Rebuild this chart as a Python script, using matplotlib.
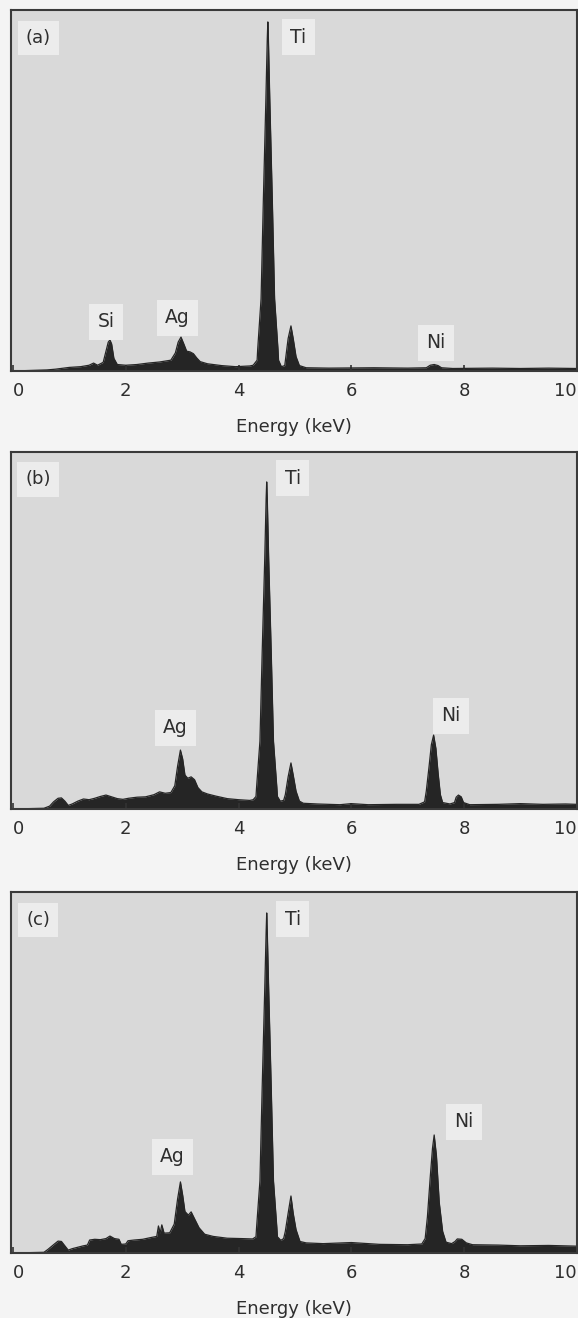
import matplotlib
matplotlib.use("Agg")
import matplotlib.pyplot as plt

# EDS spectra, energy in keV, counts in % of full scale
energy_a = [0.00, 0.60, 0.75, 1.00, 1.20, 1.35, 1.43, 1.50, 1.60, 1.65, 1.69, 1.72, 1.75, 1.79, 1.85,
            2.00, 2.20, 2.40, 2.60, 2.80, 2.88, 2.93, 2.98, 3.03, 3.08, 3.14, 3.20, 3.26, 3.32, 3.45,
            3.70, 3.95, 4.20, 4.26, 4.33, 4.34, 4.40, 4.44, 4.485, 4.51, 4.52, 4.53, 4.555, 4.60, 4.64,
            4.70, 4.71, 4.76, 4.82, 4.84, 4.88, 4.93, 4.97, 5.02, 5.08, 5.20, 5.60, 6.40, 7.00, 7.33,
            7.40, 7.47, 7.54, 7.60, 7.80, 8.50, 9.00, 9.50, 10.0]
counts_a = [0.0, 0.3, 0.5, 1.0, 1.2, 1.6, 2.2, 1.6, 2.4, 5.5, 8.0, 8.6, 7.5, 3.5, 1.8,
            1.6, 1.8, 2.2, 2.5, 3.0, 5.0, 8.0, 9.4, 7.5, 5.5, 5.3, 4.8, 3.6, 2.6, 2.0,
            1.5, 1.2, 1.4, 1.6, 3.0, 6.0, 20.0, 47.0, 75.0, 92.0, 96.7, 92.0, 75.0, 47.0, 20.0,
            6.0, 3.0, 1.2, 1.5, 4.0, 9.0, 12.5, 9.0, 4.0, 1.5, 0.9, 0.8, 0.9, 0.8, 0.9,
            1.6, 1.8, 1.5, 0.9, 0.7, 0.8, 0.7, 0.8, 0.7]

energy_b = [0.00, 0.55, 0.65, 0.72, 0.80, 0.86, 0.92, 0.98, 1.05, 1.15, 1.25, 1.35, 1.45, 1.55, 1.65,
            1.75, 1.85, 1.95, 2.05, 2.20, 2.35, 2.50, 2.60, 2.70, 2.80, 2.87, 2.92, 2.97, 3.01, 3.05,
            3.10, 3.16, 3.22, 3.28, 3.35, 3.45, 3.60, 3.80, 4.00, 4.20, 4.26, 4.31, 4.32, 4.38, 4.42,
            4.465, 4.49, 4.50, 4.51, 4.535, 4.58, 4.62, 4.68, 4.69, 4.74, 4.80, 4.83, 4.88, 4.93, 4.97,
            5.02, 5.08, 5.15, 5.40, 5.80, 6.00, 6.30, 6.80, 7.20, 7.30, 7.33, 7.38, 7.42, 7.46, 7.50,
            7.54, 7.58, 7.62, 7.75, 7.83, 7.86, 7.90, 7.95, 7.99, 8.10, 8.60, 9.00, 9.40, 9.80, 10.0]
counts_b = [0.0, 0.2, 0.8, 2.0, 3.0, 3.1, 2.2, 1.0, 1.4, 2.2, 2.8, 2.6, 3.0, 3.5, 3.9,
            3.4, 2.9, 2.7, 3.0, 3.3, 3.4, 4.0, 4.8, 4.4, 4.6, 6.5, 12.0, 16.5, 14.0, 9.5,
            8.6, 9.0, 8.2, 6.0, 4.8, 4.2, 3.6, 2.9, 2.6, 2.4, 2.6, 3.5, 6.0, 19.0, 44.0,
            70.0, 87.0, 91.6, 87.0, 70.0, 44.0, 19.0, 6.0, 3.5, 2.2, 2.4, 4.0, 9.0, 12.9, 9.5,
            5.0, 2.2, 1.6, 1.4, 1.2, 1.5, 1.2, 1.3, 1.3, 2.0, 5.0, 12.0, 18.0, 20.7, 17.0,
            10.0, 4.0, 1.8, 1.4, 1.8, 3.3, 3.9, 3.4, 1.8, 1.2, 1.3, 1.5, 1.3, 1.4, 1.3]

energy_c = [0.00, 0.55, 0.62, 0.72, 0.80, 0.86, 0.92, 0.98, 1.05, 1.15, 1.25, 1.32, 1.36, 1.45, 1.55,
            1.65, 1.72, 1.80, 1.88, 1.92, 2.00, 2.04, 2.15, 2.30, 2.45, 2.55, 2.58, 2.61, 2.64, 2.68,
            2.78, 2.86, 2.92, 2.97, 3.01, 3.05, 3.11, 3.16, 3.22, 3.30, 3.40, 3.55, 3.80, 4.05, 4.25,
            4.31, 4.32, 4.38, 4.42, 4.465, 4.49, 4.50, 4.51, 4.535, 4.58, 4.62, 4.68, 4.69, 4.75, 4.80,
            4.83, 4.88, 4.93, 4.97, 5.02, 5.09, 5.20, 5.50, 6.00, 6.50, 7.00, 7.25, 7.31, 7.35, 7.40,
            7.44, 7.47, 7.51, 7.56, 7.62, 7.68, 7.78, 7.84, 7.88, 7.96, 8.04, 8.15, 8.60, 9.00, 9.50,
            10.0]
counts_c = [0.0, 0.2, 1.0, 2.3, 3.3, 3.2, 2.0, 0.8, 1.2, 1.6, 2.0, 2.2, 3.6, 3.8, 3.7,
            4.0, 4.7, 4.0, 3.8, 2.4, 2.5, 3.4, 3.6, 3.8, 4.3, 4.6, 7.5, 5.5, 7.8, 5.5,
            5.6, 8.0, 15.0, 19.7, 16.0, 11.5, 10.5, 11.4, 9.5, 7.0, 5.2, 4.6, 4.1, 4.0, 3.9,
            4.5, 7.0, 20.0, 46.0, 73.0, 89.0, 94.2, 89.0, 73.0, 46.0, 20.0, 7.0, 4.5, 3.5, 4.0,
            6.0, 11.0, 15.8, 11.0, 6.5, 3.2, 2.8, 2.6, 2.9, 2.4, 2.3, 2.5, 4.0, 10.0, 21.0,
            29.0, 32.7, 27.0, 14.0, 6.0, 3.0, 2.6, 3.2, 3.9, 3.8, 2.8, 2.3, 2.2, 2.0, 2.1,
            1.9]

xticks = [0, 2, 4, 6, 8, 10]

panels = [
    ("(a)", energy_a, counts_a, [("Ti", 5.06, 92.5), ("Si", 1.65, 13.6), ("Ag", 2.92, 14.7), ("Ni", 7.50, 7.8)]),
    ("(b)", energy_b, counts_b, [("Ti", 4.96, 92.7), ("Ag", 2.88, 22.7), ("Ni", 7.77, 26.1)]),
    ("(c)", energy_c, counts_c, [("Ti", 4.96, 92.5), ("Ag", 2.83, 26.6), ("Ni", 8.00, 36.3)]),
]

# axes boxes in figure fraction (left, bottom, width, height)
boxes = [(0.019, 0.7185, 0.979, 0.2739),
         (0.019, 0.3862, 0.979, 0.2709),
         (0.019, 0.0493, 0.979, 0.2739)]

fig = plt.figure(figsize=(5.78, 13.18), dpi=100, facecolor="#f4f4f4")
box_style = dict(boxstyle="square,pad=0.45", fc="#ececec", ec="none")

for (tag, e, c, peaks), rect in zip(panels, boxes):
    ax = fig.add_axes(rect, facecolor="#d9d9d9")
    ax.fill_between(e, c, 0, color="#252525", lw=0)
    ax.plot(e, c, color="#252525", lw=0.9)
    ax.set_xlim(-0.035, 10.0)
    ax.set_ylim(0, 100)
    ax.set_yticks([])
    ax.set_xticks(xticks)
    ax.set_xticklabels([str(t) for t in xticks])
    labels = ax.get_xticklabels()
    labels[0].set_ha("left")
    labels[-1].set_ha("right")
    ax.tick_params(axis="x", direction="in", length=4, width=1.2, color="#333333",
                   pad=8, labelsize=13, labelcolor="#2e2e2e")
    for s in ax.spines.values():
        s.set_color("#3a3a3a")
        s.set_linewidth(1.5)
    ax.set_xlabel("Energy (keV)", fontsize=13, color="#2e2e2e", labelpad=13)
    ax.text(0.45, 92.3, tag, fontsize=13, color="#2e2e2e", ha="center", va="center", bbox=box_style)
    for name, x, y in peaks:
        ax.text(x, y, name, fontsize=13.5, color="#2e2e2e", ha="center", va="center", bbox=box_style)

fig.savefig("out.png", dpi=100, facecolor=fig.get_facecolor())
